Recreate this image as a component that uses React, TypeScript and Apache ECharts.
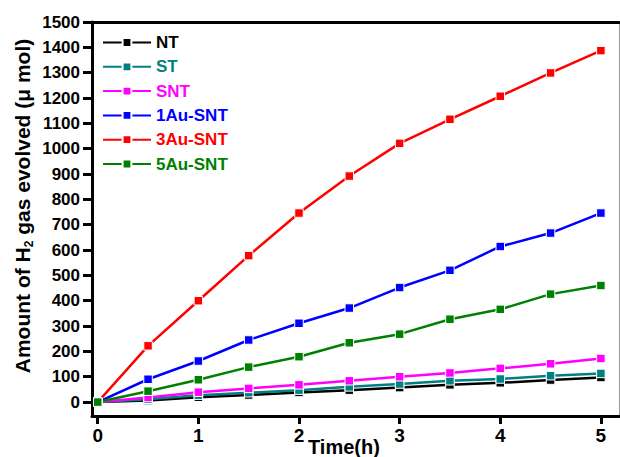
import React, { useEffect, useRef } from "react";
import * as echarts from "echarts";

const times = [0, 0.5, 1, 1.5, 2, 2.5, 3, 3.5, 4, 4.5, 5];
const seriesNames = ["NT", "ST", "SNT", "1Au-SNT", "3Au-SNT", "5Au-SNT"];
const seriesColors = ["#000000", "#008080", "#ff00ff", "#0000ff", "#ff0000", "#008000"];
const ntValues = [0, 6, 19, 28, 38, 47, 57, 68, 76, 87, 97];
const stValues = [0, 11, 27, 37, 47, 60, 71, 84, 91, 104, 113];
const sntValues = [0, 18, 39, 54, 68, 84, 100, 115, 133, 151, 172];
const au1Values = [0, 90, 162, 245, 311, 371, 452, 520, 614, 667, 746];
const au3Values = [0, 222, 400, 578, 746, 892, 1021, 1116, 1207, 1299, 1387];
const au5Values = [0, 43, 88, 138, 179, 234, 268, 327, 366, 426, 460];
const xTickValues = [0, 1, 2, 3, 4, 5];
const yTickValues = [0, 100, 200, 300, 400, 500, 600, 700, 800, 900, 1000, 1100, 1200, 1300, 1400, 1500];

const allValues = [ntValues, stValues, sntValues, au1Values, au3Values, au5Values];

export default function App() {
  const ref = useRef<HTMLDivElement>(null);
  useEffect(() => {
    if (!ref.current) return;
    const chart = echarts.init(ref.current, null, { renderer: "svg" });
    const font = "Liberation Sans, Arial, sans-serif";
    const series = seriesNames.map((name, i) => ({
      name,
      type: "line",
      data: times.map((t, j) => [t, allValues[i][j]]),
      symbol: "rect",
      symbolSize: 8.5,
      lineStyle: { color: seriesColors[i], width: 2.5 },
      itemStyle: { color: seriesColors[i], borderColor: "#ffffff", borderWidth: 1 },
      xAxisIndex: 0,
      yAxisIndex: 0,
    }));
    chart.setOption({
      animation: false,
      backgroundColor: "#ffffff",
      grid: { left: 92, top: 22, right: 1, bottom: 41, containLabel: false },
      legend: {
        orient: "vertical",
        left: 97,
        top: 29,
        itemWidth: 48,
        itemHeight: 11,
        itemGap: 7.3,
        textStyle: { fontFamily: font, fontWeight: "bold", fontSize: 17 },
        data: seriesNames.map((n, i) => ({ name: n, textStyle: { color: seriesColors[i] } })),
      },
      xAxis: [
        {
          type: "value",
          min: -0.057,
          max: 5.18,
          axisLine: { show: true, onZero: false, lineStyle: { color: "#000", width: 3 } },
          axisTick: { show: true, length: 8, inside: false, lineStyle: { color: "#000", width: 3 }, customValues: xTickValues },
          axisLabel: { margin: 10, color: "#000", fontFamily: font, fontWeight: "bold", fontSize: 19, customValues: xTickValues, formatter: (v: number) => String(v) },
          splitLine: { show: false },
        },
        {
          type: "value",
          position: "top",
          min: -0.057,
          max: 5.18,
          axisLine: { show: true, onZero: false, lineStyle: { color: "#000", width: 3 } },
          axisTick: { show: false },
          axisLabel: { show: false },
          splitLine: { show: false },
        },
      ],
      yAxis: [
        {
          type: "value",
          min: -55,
          max: 1500,
          axisLine: { show: true, onZero: false, lineStyle: { color: "#000", width: 3 } },
          axisTick: { show: true, length: 9, inside: false, lineStyle: { color: "#000", width: 3 }, customValues: yTickValues },
          axisLabel: { margin: 12, color: "#000", fontFamily: font, fontWeight: "bold", fontSize: 17, customValues: yTickValues, formatter: (v: number) => String(v) },
          splitLine: { show: false },
        },
        {
          type: "value",
          position: "right",
          min: -55,
          max: 1500,
          axisLine: { show: true, onZero: false, lineStyle: { color: "#999", width: 1 } },
          axisTick: { show: false },
          axisLabel: { show: false },
          splitLine: { show: false },
        },
      ],
      graphic: [
        {
          type: "text",
          x: 22,
          y: 206,
          rotation: Math.PI / 2,
          style: {
            text: "{t|Amount of H}{sub|2}{t| gas evolved (μ mol)}",
            align: "center",
            verticalAlign: "middle",
            fill: "#000",
            rich: {
              t: { fontFamily: font, fontWeight: "bold", fontSize: 21, lineHeight: 26, fill: "#000", verticalAlign: "middle" },
              sub: { fontFamily: font, fontWeight: "bold", fontSize: 12, lineHeight: 26, fill: "#000", verticalAlign: "bottom" },
            },
          },
        },
        {
          type: "text",
          x: 308,
          y: 447,
          style: {
            text: "Time(h)",
            fill: "#000",
            font: "bold 20px Liberation Sans, Arial, sans-serif",
            align: "left",
            verticalAlign: "middle",
          },
        },
      ],
      series,
    });
    return () => chart.dispose();
  }, []);
  return <div ref={ref} style={{ position: "fixed", left: 0, top: 0, width: 620, height: 457 }} />;
}
